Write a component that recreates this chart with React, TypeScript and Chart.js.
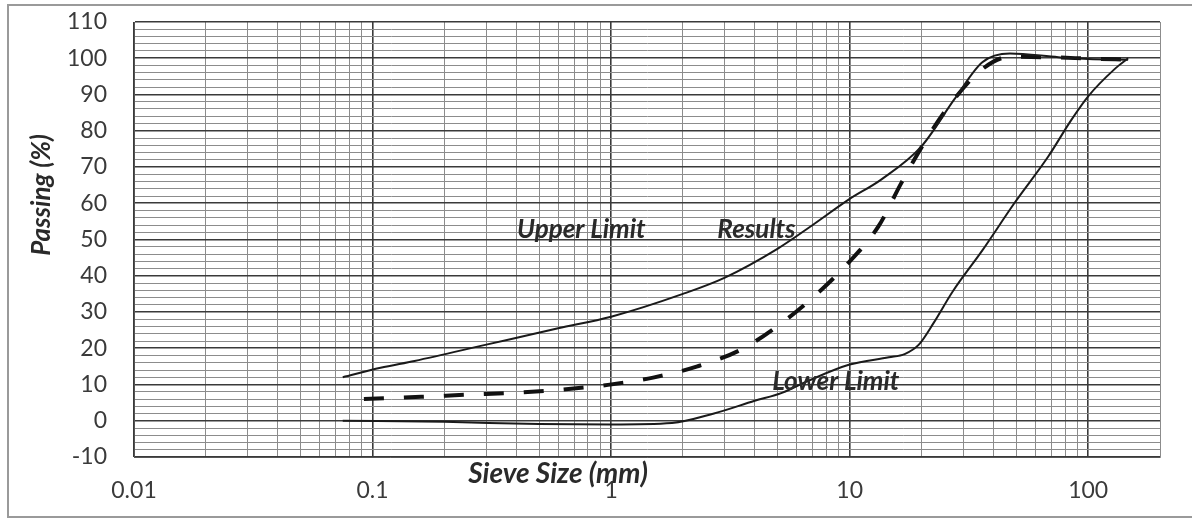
import React, { useEffect, useRef } from "react";
import { Chart, registerables } from "chart.js";

Chart.register(...registerables);

// ---- data (sieve size mm, passing %) ----
const upperSizes = [0.075, 0.108, 0.15, 0.3, 0.6, 1.0, 2.0, 3.0, 5.0, 7.0, 9.9, 13.6, 20, 27.5, 36, 47, 75, 100, 147];
const upperPassing = [12, 14.6, 16.5, 21, 25.5, 28.7, 35, 39.5, 47.5, 54, 61, 66.6, 75.7, 88.7, 98.9, 101.3, 100.3, 99.8, 99.6];

const resultSizes = [0.092, 0.16, 0.25, 0.39, 0.62, 0.97, 1.5, 2.3, 3.5, 5.2, 7.1, 9.9, 13.2, 16.5, 20.6, 26, 36, 47, 75, 100, 147];
const resultPassing = [6.0, 6.6, 7.2, 7.7, 8.6, 9.9, 11.9, 15, 19.6, 27, 34.3, 43.6, 53.6, 65.7, 76.8, 86.7, 97, 100.4, 100.2, 99.9, 99.6];

const lowerSizes = [0.075, 0.2, 0.5, 1.0, 1.8, 2.7, 4.0, 5.2, 6.7, 10, 14.6, 17, 19.5, 22.5, 27, 36, 49, 68, 85, 100, 129, 147];
const lowerPassing = [0, -0.3, -0.9, -1.0, -0.6, 2.0, 5.5, 7.7, 11, 15.5, 17.5, 18.4, 21, 27, 35.6, 47, 60, 72.9, 83, 89.5, 97, 100];

const xTickValues = [0.01, 0.1, 1, 10, 100];
const xTickLabels = ["0.01", "0.1", "1", "10", "100"];
const yMin = -10;
const yMax = 110;

const curveLabels = ["Upper Limit", "Results", "Lower Limit"];
const curveLabelX = [0.75, 4.07, 8.75];
const curveLabelY = [52.8, 52.8, 10.8];

const xAxisTitle = "Sieve Size (mm)";
const yAxisTitle = "Passing (%)";

function toPoints(xs: number[], ys: number[]) {
  return xs.map((x, i) => ({ x, y: ys[i] }));
}

function allLogTicks(): number[] {
  const out: number[] = [];
  for (let e = -2; e <= 2; e++) {
    for (let m = 1; m <= 9; m++) {
      const v = m * Math.pow(10, e);
      if (v <= 200.0001) out.push(Number(v.toPrecision(6)));
    }
  }
  return out;
}

function isDecade(v: number) {
  const l = Math.log10(v);
  return Math.abs(l - Math.round(l)) < 1e-6;
}

const LABEL_FONT = "Lato, 'Open Sans', 'DejaVu Sans', sans-serif";

const decorPlugin = {
  id: "decor",
  beforeDraw(chart: any) {
    const ctx = chart.ctx;
    ctx.save();
    ctx.fillStyle = "#ffffff";
    ctx.fillRect(0, 0, chart.width, chart.height);
    ctx.strokeStyle = "#9a9a9a";
    ctx.lineWidth = 2;
    ctx.beginPath();
    ctx.moveTo(1200, 5);
    ctx.lineTo(8, 5);
    ctx.lineTo(8, 517);
    ctx.lineTo(1200, 517);
    ctx.stroke();
    ctx.restore();
  },
  afterDatasetsDraw(chart: any) {
    const ctx = chart.ctx;
    const xs = chart.scales.x;
    const ys = chart.scales.y;
    ctx.save();
    ctx.fillStyle = "#2a2a2a";
    ctx.textAlign = "center";
    ctx.textBaseline = "middle";
    ctx.font = `italic bold 26px ${LABEL_FONT}`;
    curveLabels.forEach((t, i) => {
      ctx.fillText(t, xs.getPixelForValue(curveLabelX[i]), ys.getPixelForValue(curveLabelY[i]));
    });
    // axis titles
    ctx.font = `italic bold 28px ${LABEL_FONT}`;
    ctx.fillText(xAxisTitle, 558, 474);
    ctx.translate(42, 195);
    ctx.rotate(-Math.PI / 2);
    ctx.font = `italic bold 26px ${LABEL_FONT}`;
    ctx.fillText(yAxisTitle, 0, 0);
    ctx.restore();
  },
};

export default function App() {
  const ref = useRef<HTMLCanvasElement | null>(null);

  useEffect(() => {
    if (!ref.current) return;
    const chart = new Chart(ref.current, {
      type: "line",
      data: {
        datasets: [
          {
            label: "Upper Limit",
            data: toPoints(upperSizes, upperPassing),
            borderColor: "#1a1a1a",
            borderWidth: 2,
            pointRadius: 0,
            cubicInterpolationMode: "monotone",
            fill: false,
          },
          {
            label: "Results",
            data: toPoints(resultSizes, resultPassing),
            borderColor: "#111111",
            borderWidth: 4,
            borderDash: [20, 20],
            pointRadius: 0,
            cubicInterpolationMode: "monotone",
            fill: false,
          },
          {
            label: "Lower Limit",
            data: toPoints(lowerSizes, lowerPassing),
            borderColor: "#1a1a1a",
            borderWidth: 2,
            pointRadius: 0,
            cubicInterpolationMode: "monotone",
            fill: false,
          },
        ],
      },
      options: {
        responsive: false,
        animation: false,
        layout: { padding: { top: 22, right: 32, left: 0, bottom: 0 } },
        plugins: { legend: { display: false }, tooltip: { enabled: false } },
        scales: {
          x: {
            type: "logarithmic",
            min: 0.01,
            max: 200,
            afterBuildTicks(axis: any) {
              axis.ticks = allLogTicks().map((v) => ({ value: v }));
            },
            afterFit(axis: any) {
              axis.height = 62;
              axis.paddingLeft = 0;
              axis.paddingRight = 0;
            },
            ticks: {
              autoSkip: false,
              maxRotation: 0,
              padding: 20,
              color: "#3a3a3a",
              font: { family: LABEL_FONT, size: 23 },
              callback(value: any) {
                const v = Number(value);
                const idx = xTickValues.findIndex((t) => Math.abs(t - v) / t < 1e-6);
                return idx >= 0 ? xTickLabels[idx] : "";
              },
            },
            grid: {
              drawTicks: false,
              color(c: any) {
                return c.tick && isDecade(c.tick.value) ? "#3a3a3a" : "#8c8c8c";
              },
              lineWidth(c: any) {
                return c.tick && isDecade(c.tick.value) ? 1.6 : 1;
              },
            },
            border: { color: "#555", width: 1 },
          },
          y: {
            type: "linear",
            min: yMin,
            max: yMax,
            afterFit(axis: any) {
              axis.width = 134;
              axis.paddingTop = 0;
              axis.paddingBottom = 0;
            },
            ticks: {
              stepSize: 2,
              autoSkip: false,
              padding: 27,
              color: "#3a3a3a",
              font: { family: LABEL_FONT, size: 23 },
              callback(value: any) {
                const v = Math.round(Number(value));
                return v % 10 === 0 ? String(v) : "";
              },
            },
            grid: {
              drawTicks: false,
              color(c: any) {
                return c.tick && Math.round(c.tick.value) % 10 === 0 ? "#3a3a3a" : "#8c8c8c";
              },
              lineWidth(c: any) {
                return c.tick && Math.round(c.tick.value) % 10 === 0 ? 1.6 : 1;
              },
            },
            border: { color: "#555", width: 1 },
          },
        },
      },
      plugins: [decorPlugin],
    } as any);
    return () => chart.destroy();
  }, []);

  return (
    <div style={{ position: "absolute", left: 0, top: 0, width: 1192, height: 519, background: "#fff" }}>
      <canvas ref={ref} width={1192} height={519} style={{ display: "block", width: 1192, height: 519 }} />
    </div>
  );
}
